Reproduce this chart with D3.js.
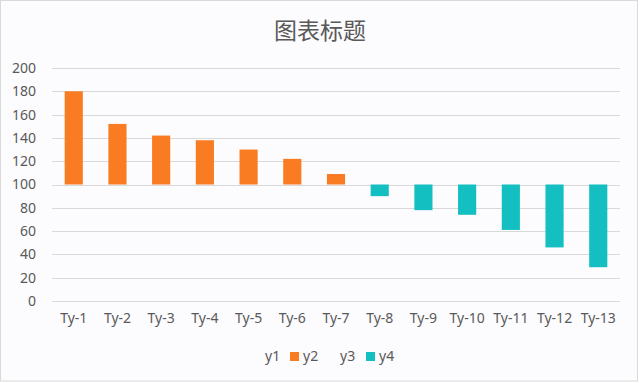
<!DOCTYPE html>
<html><head><meta charset="utf-8">
<script src="https://cdn.jsdelivr.net/npm/d3@7"></script>
<style>
html,body{margin:0;padding:0;background:#fff;}
svg{display:block;}
</style></head>
<body>
<svg id="c" width="640" height="383"></svg>
<script>
const categories = ["Ty-1","Ty-2","Ty-3","Ty-4","Ty-5","Ty-6","Ty-7","Ty-8","Ty-9","Ty-10","Ty-11","Ty-12","Ty-13"];
// invisible base (y1), orange rise above 100 (y2), invisible base (y3), teal drop below 100 (y4)
const y1 = [100,100,100,100,100,100,100,0,0,0,0,0,0];
const y2 = [80,52,42,38,30,22,9,0,0,0,0,0,0];
const y3 = [0,0,0,0,0,0,0,90,78,74,61,46,29];
const y4 = [0,0,0,0,0,0,0,10,22,26,39,54,71];
const seriesNames = ["y1","y2","y3","y4"];
const seriesColors = ["none","#F97B22","none","#14BFC2"];
const yTicks = [0,20,40,60,80,100,120,140,160,180,200];
const title = "图表标题";

const W = 640, H = 383;
const svg = d3.select("#c");
svg.append("rect").attr("x",0.5).attr("y",0.5).attr("width",W-3).attr("height",H-2.5)
  .attr("fill","#fcfbfd").attr("stroke","#d9d9d9");

const m = {left:52, right:20, top:68, bottom:82};
const x = d3.scaleBand().domain(categories).range([m.left, W-m.right]).paddingInner(0.585).paddingOuter(0.29);
const y = d3.scaleLinear().domain([0,200]).range([H-m.bottom, m.top]);

const font = "'Noto Sans','Noto Sans CJK SC',sans-serif";
const txt = "#595959";

// gridlines
svg.append("g").selectAll("line").data(yTicks).join("line")
  .attr("x1", m.left).attr("x2", W-m.right)
  .attr("y1", d=>Math.round(y(d))+0.5).attr("y2", d=>Math.round(y(d))+0.5)
  .attr("stroke","#d9d9d9").attr("stroke-width",1);

// y axis labels
const ya = svg.append("g").attr("transform",`translate(${m.left},0)`)
  .call(d3.axisLeft(y).tickValues(yTicks).tickSize(0).tickPadding(16));
ya.select(".domain").remove();
ya.selectAll("text").attr("font-family",font).attr("font-size",14).attr("fill",txt);

// x axis labels
const xa = svg.append("g").attr("transform",`translate(0,${H-m.bottom})`)
  .call(d3.axisBottom(x).tickSize(0).tickPadding(12));
xa.select(".domain").remove();
xa.selectAll("text").attr("font-family",font).attr("font-size",14).attr("fill",txt);

// stacked bars
const table = categories.map((c,i)=>({cat:c, y1:y1[i], y2:y2[i], y3:y3[i], y4:y4[i]}));
const stacked = d3.stack().keys(seriesNames)(table);
svg.append("g").selectAll("g").data(stacked).join("g")
  .attr("fill",(d,i)=>seriesColors[i])
  .selectAll("rect").data(d=>d.filter(p=>p[1]-p[0]>0)).join("rect")
  .attr("x", d=>x(d.data.cat))
  .attr("width", x.bandwidth())
  .attr("y", d=>y(d[1]))
  .attr("height", d=>y(d[0])-y(d[1]));

// title
svg.append("text").attr("x",W/2).attr("y",39).attr("text-anchor","middle")
  .attr("font-family","'Noto Sans CJK SC',sans-serif").attr("font-size",23).attr("fill",txt).text(title);

// legend
const leg = svg.append("g").attr("font-family",font).attr("font-size",14).attr("fill",txt);
const legX = [265, 290, 340, 366];
seriesNames.forEach((n,i)=>{
  let tx = legX[i];
  if (seriesColors[i] !== "none") {
    leg.append("rect").attr("x",legX[i]).attr("y",352).attr("width",9).attr("height",9).attr("fill",seriesColors[i]);
    tx = legX[i] + 13;
  }
  leg.append("text").attr("x",tx).attr("y",361).text(n);
});
</script>
</body></html>
